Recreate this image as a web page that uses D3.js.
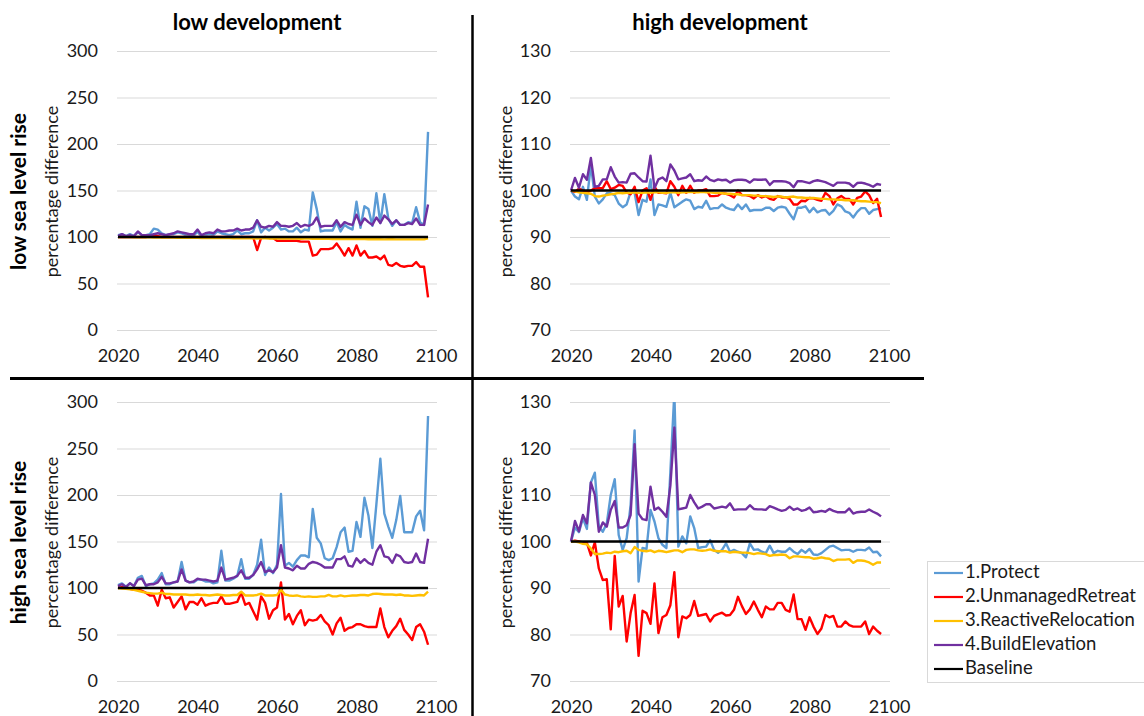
<!DOCTYPE html>
<html>
<head>
<meta charset="utf-8">
<script src="https://cdn.jsdelivr.net/npm/d3@7"></script>
<style>
  body { margin: 0; background: #fff; }
  svg { display: block; font-family: Lato, "Liberation Sans", sans-serif; }
</style>
</head>
<body>
<div id="chart"></div>
<script>
// years on the x axis, one point per year
var years = d3.range(2020, 2099);
var xTicks = [2020, 2040, 2060, 2080, 2100];
var yTicksLowDev = [0, 50, 100, 150, 200, 250, 300];
var yTicksHighDev = [70, 80, 90, 100, 110, 120, 130];
var colTitles = ["low development", "high development"];
var rowTitles = ["low sea level rise", "high sea level rise"];
var seriesNames = ["1.Protect", "2.UnmanagedRetreat", "3.ReactiveRelocation", "4.BuildElevation", "Baseline"];
var seriesColors = ["#5b9bd5", "#ff0000", "#ffc000", "#7030a0", "#000000"];
var baselineYears = [2020, 2098];
var baselineValues = [100, 100];

// low development, low sea level rise
var protectLDLS = [102,103,101,103,101,105,102,102,103,109, 108,104,102,103,103,105,104,102,101,101,
  106,100,102,103,102,106,104,103,102,103, 107,103,104,104,106,118,105,110,107,110,
  114,108,109,106,106,110,105,108,107,148, 130,106,107,107,107,116,106,113,110,108,
  138,110,133,130,112,147,115,146,120,112, 118,113,113,116,115,132,116,113,213];
var retreatLDLS = [100,100,100,100,100,100,100,100,101,102, 101,100,100,100,100,100,100,100,100,100,
  100,100,100,100,100,100,100,100,100,100, 100,100,100,100,100,86,99,100,99,99,
  96,96,96,96,96,96,95,95,95,80, 81,87,87,87,88,93,87,80,88,80,
  91,80,85,78,78,79,76,80,70,69, 72,69,68,69,69,73,68,68,35];
var relocLDLS = [100,100,99.9,100,99.8,99.8,99.6,99.7,99.6,99.5, 99.5,99.4,99.5,99.3,99.4,99.2,99.3,99.2,99.1,99.2,
  99.1,99,99,99.1,98.9,98.9,98.8,98.9,98.8,98.7, 98.8,98.7,98.6,98.7,98.6,98.4,98.6,98.5,98.4,98.5,
  98.4,98.3,98.4,98.3,98.2,98.3,98.1,98.2,98.2,98, 98.1,98,98,98.1,97.9,98,97.9,97.8,97.9,97.8,
  97.8,97.7,97.8,97.6,97.7,97.6,97.7,97.5,97.6,97.6, 97.5,97.5,97.4,97.5,97.4,97.4,97.5,97.4,98.5];
var elevLDLS = [101,103,101,102,101,106,102,102,102,103, 104,103,102,103,104,106,105,104,103,103,
  108,102,104,105,104,108,106,106,107,107, 109,107,108,108,110,118,111,110,112,111,
  116,112,112,111,112,115,111,113,112,114, 121,111,112,112,112,118,111,116,114,113,
  124,113,120,116,113,121,115,123,119,114, 118,113,113,115,114,120,113,113,135];

// high development, low sea level rise
var protectHDLS = [100,98.7,98.1,100.8,98,105.5,98.7,97.2,98.1,99.4, 99.4,99,97.2,96.4,97,99.7,99.5,94.7,98,97.6,
  102.4,94.7,97,96.8,96.5,99.5,96.4,97,97.6,98.1, 97.8,96,96.5,96.3,97.8,96,96.2,96.2,97,96.3,
  96,95.8,97,96,97,95.6,95.8,95.8,95.8,96.3, 96.3,95.6,96.3,96.5,96.3,95,93.8,96.3,96.3,96.6,
  95.3,96.3,95.3,95.7,95.8,94.8,95.6,97,96.6,95.5, 95.2,94.2,95.4,96.2,96.2,95,95.8,96,96.2];
var retreatHDLS = [100,99.7,100.4,100,99.6,100,100.5,100.5,100.5,102, 100.3,100.6,101.2,101,99.6,99.2,100.8,97.5,100,100.5,
  98,100.8,99.5,99.5,99.4,102,100.8,99,101,99.5, 101,99.5,100,100,100.3,98.8,98.8,98.9,99.5,99.3,
  99,98.5,100,99,99,98.8,98.3,99,98.5,98.8, 98.2,98,98.8,98.5,98.5,98.2,97,97,97.8,97.7,
  98.4,98.3,98,97.8,99.5,98.8,97,98.3,98.8,98.2, 98.2,97,98.4,98.7,99.8,99,97.3,98.2,94.3];
var relocHDLS = [100,99.8,99.6,99.5,99.4,99.3,98.8,98.7,98.9,99, 99.2,99.3,99.5,99.4,99.5,99.5,99.6,99.5,99.5,99.6,
  99.5,99.6,99.6,99.5,99.5,99.6,99.6,99.5,99.6,99.6, 99.7,99.6,99.6,99.7,99.6,99.6,99.5,99.5,99.4,99.3,
  99.3,99.2,99.2,99,99,99,98.9,98.9,98.8,98.8, 98.7,98.6,98.7,98.7,98.5,98.6,98.7,98.5,98.5,98.4,
  98.4,98.4,98.3,98.2,98.2,98.1,98.1,98,98,97.9, 97.9,97.9,97.8,97.7,97.7,97.6,97.5,97.5,97.3];
var elevHDLS = [100,102.7,100.6,103.5,102.3,107,100.8,101,102.4,102.4, 105,103,101.7,101.8,101.7,103.6,103.7,102.8,102,101.9,
  107.5,100.5,102.4,102.8,102,105.6,104.3,102.4,102.6,102.8, 103.5,102,102.2,102.1,103,102.3,102,102.4,102.2,102.3,
  101.7,102.2,102.3,102.3,102.2,101.7,102.4,102.3,102.3,102.4, 101.2,102,102,102,101.9,101.6,100.7,102,102,101.8,
  101.6,102,102.2,102,101.8,101.4,101,101.7,101.7,101.7, 101.5,100.8,101.6,101.7,101.5,101.2,100.8,101.4,101.2];

// low development, high sea level rise
var protectLDHS = [103,105,101.5,105,102,111,113,102,104,105, 109,116,104,104,106,107,128,108,106,106,
  109,109,107,107,105,106,140,108,108,110, 113,131,110,110,114,125,152,114,122,116,
  125,201,124,127,123,130,135,135,133,185, 154,148,132,130,132,144,160,165,139,140,
  171,155,197,178,143,190,239,180,166,154, 173,199,160,160,160,177,183,162,285];
var retreatLDHS = [100,101,100,99,98,98,97,95,92,92, 81,98,89,90,79,85,91,77,85,85,
  82,89,81,83,84,84,91,83,83,84, 85,95,82,84,75,66,91,84,67,76,
  79,106,66,72,61,70,76,60,66,65, 66,71,64,60,50,62,68,54,57,58,
  61,61,59,58,58,58,78,58,47,54, 59,67,55,50,44,58,61,53,39];
var relocLDHS = [100,99.5,99,98.5,98,97,96,95,94.5,94, 94,95,93.5,93.5,93,93,93,93,92.5,92.5,
  93,92.5,92.5,92,92.5,93,92.5,92,92,92.5, 92.5,96,92,92,92,92.5,94,92,92,92,
  92.5,98,93,92,91.5,92,91,90.5,91,90.5, 90.5,91,91,92.5,91,91,92,91,91.5,92,
  92,92.5,92.5,92,93.5,94,93.5,93,93,93, 92.5,93,92,92,91.5,92,92.5,92,96];
var elevLDHS = [102,104,101,105,102,109,110,103,104,104, 106,112,105,105,106,107,120,108,106,107,
  110,109,109,108,107,108,122,109,110,111, 113,119,111,111,114,120,128,117,119,117,
  122,146,122,121,119,124,121,121,126,128, 127,125,122,122,122,131,131,134,124,123,
  132,127,131,127,125,139,146,134,133,127, 136,134,128,127,128,137,128,127,153];

// high development, high sea level rise
var protectHDHS = [100,103,102,105,102.7,112.7,114.8,103.2,102.1,103.9, 110,113.4,101.4,98.2,100.7,107.8,123.9,91.4,98.6,98.4,
  106.8,104.3,100.7,99.3,98.6,115,132,98.9,101.1,99.6, 105.4,102.9,98.6,98.8,98.9,100.3,98.2,97.6,98.2,99.6,
  97.8,98.2,97.8,97.5,96.6,99.6,98.2,98.3,97.8,97.5, 99.1,97.5,98,97.8,97.8,98.6,97.8,97.3,98.2,97.6,
  98.4,97.2,97.1,97.5,98.2,98.9,99.1,98.6,98.1,98.2, 98.2,97.8,98.2,98.2,98.1,98.7,97.7,97.8,96.8];
var retreatHDHS = [100,100.2,100,99.8,99.7,97,99.8,94.2,91.7,91.9, 81.1,96.9,86,88.3,78.5,84.6,88.5,75.4,85.1,84.6,
  82.3,91,80.3,83.7,84.2,86.3,93.4,79.4,83.9,83.5, 84.2,87.2,84,84.2,84.4,82.8,84,84.4,84.7,84.1,
  84.2,85.3,88.1,86.1,84.4,85.4,87.1,85.3,83.7,86, 85.4,85.4,86.8,86.8,85.3,84.9,88.6,83.3,83.3,81,
  83.7,81.7,80.1,81.3,84.2,83.7,84,81.7,81.7,82.8, 82,81.7,81.7,81.7,82.8,80.1,81.7,80.8,80.1];
var relocHDHS = [100,100,99.8,99.5,99.4,98.5,97.3,97.3,97.4,97.6, 97.5,97.8,97.7,97.9,98,97.5,98.8,98.2,98,97.9,
  98.1,97.7,98,97.9,97.7,97.9,98.1,98.1,97.7,98.2, 98.3,98.3,98.1,98,98.1,98.3,98,97.9,97.9,97.9,
  97.6,97.8,97.7,97.6,97.6,97.5,97.3,97.5,97.4,97.3, 96.9,97.1,97.1,97.2,97.1,96.4,96.8,96.8,96.7,96.6,
  96.6,96.3,96.4,96.6,96.4,96.3,95.8,96.1,96.1,96.1, 96.2,95.4,95.9,95.9,95.8,95.5,95,95.5,95.5];
var elevHDHS = [100,104.4,102.2,105.7,103.9,112.7,110,102.1,104.1,103.2, 106.8,108.7,103,103,103.5,105.7,120.9,106,104.8,104.6,
  111.8,106.8,107.3,106.4,105.3,112,124.5,106.9,107.1,107.3, 110,108.4,107.1,107.5,108,108,107.1,107.3,107.5,107.3,
  108.2,106.8,106.9,106.9,106.9,107.8,107,106.9,106.9,106.8, 107.6,107.3,106.9,106.6,106.8,107.5,106.8,107.1,106.6,106.8,
  107.3,106.3,106.4,106.6,106.4,107,106.6,106.3,106.3,106.3, 107.1,106,106.3,106.4,106.4,106.9,106.4,106,105.4];

var W = 1144, H = 716;
var svg = d3.select("#chart").append("svg")
    .attr("width", W)
    .attr("height", H);

// panel boxes (plot area of each small chart)
var panels = [
    {id: "p00", left: 118, right: 436, top: 51, bottom: 330, yTicks: yTicksLowDev,
     data: [protectLDLS, retreatLDLS, relocLDLS, elevLDLS], labelX: 53, rowLabel: 0},
    {id: "p01", left: 571, right: 889, top: 51, bottom: 330, yTicks: yTicksHighDev,
     data: [protectHDLS, retreatHDLS, relocHDLS, elevHDLS], labelX: 507},
    {id: "p10", left: 118, right: 436, top: 402, bottom: 681, yTicks: yTicksLowDev,
     data: [protectLDHS, retreatLDHS, relocLDHS, elevLDHS], labelX: 53, rowLabel: 1},
    {id: "p11", left: 571, right: 889, top: 402, bottom: 681, yTicks: yTicksHighDev,
     data: [protectHDHS, retreatHDHS, relocHDHS, elevHDHS], labelX: 507}
];

var defs = svg.append("defs");

panels.forEach(function (p) {
    var x = d3.scaleLinear().domain([2020, 2100]).range([p.left, p.right]);
    var y = d3.scaleLinear().domain(d3.extent(p.yTicks)).range([p.bottom, p.top]);
    var g = svg.append("g").attr("id", p.id);

    // gridlines
    g.append("g")
        .attr("transform", "translate(" + (p.left - 1) + ",0)")
        .call(d3.axisLeft(y).tickValues(p.yTicks).tickSize(-(p.right - p.left + 2)).tickFormat(""))
        .call(function (a) {
            a.select(".domain").remove();
            a.selectAll("line").attr("stroke", "#d9d9d9").attr("stroke-width", 1);
        });

    // y tick labels
    g.append("g")
        .attr("transform", "translate(" + (p.left - 20) + ",0)")
        .call(d3.axisLeft(y).tickValues(p.yTicks).tickSize(0).tickPadding(0))
        .call(function (a) {
            a.select(".domain").remove();
            a.selectAll("text").attr("font-size", "18px").attr("fill", "#1a1a1a")
                .attr("font-family", "Lato, sans-serif");
        });

    // x tick labels
    g.append("g")
        .attr("transform", "translate(0," + (p.bottom + 19) + ")")
        .call(d3.axisBottom(x).tickValues(xTicks).tickSize(0).tickPadding(0).tickFormat(d3.format("d")))
        .call(function (a) {
            a.select(".domain").remove();
            a.selectAll("text").attr("font-size", "18px").attr("fill", "#1a1a1a")
                .attr("font-family", "Lato, sans-serif");
        });

    // axis title
    g.append("text")
        .attr("transform", "translate(" + p.labelX + "," + ((p.top + p.bottom) / 2 + 1) + ") rotate(-90)")
        .attr("text-anchor", "middle")
        .attr("dominant-baseline", "middle")
        .attr("font-size", "18px")
        .attr("fill", "#1a1a1a")
        .text("percentage difference");

    defs.append("clipPath").attr("id", "clip-" + p.id)
        .append("rect")
        .attr("x", p.left - 5).attr("y", p.top)
        .attr("width", p.right - p.left + 10).attr("height", p.bottom - p.top);

    var line = d3.line()
        .x(function (d, i) { return x(years[i]); })
        .y(function (d) { return y(d); });

    var lines = g.append("g").attr("clip-path", "url(#clip-" + p.id + ")");
    p.data.forEach(function (arr, si) {
        lines.append("path")
            .datum(arr)
            .attr("d", line)
            .attr("fill", "none")
            .attr("stroke", seriesColors[si])
            .attr("stroke-width", 2.4)
            .attr("stroke-linejoin", "round");
    });
    // baseline on top
    lines.append("path")
        .datum(baselineValues)
        .attr("d", d3.line()
            .x(function (d, i) { return x(baselineYears[i]); })
            .y(function (d) { return y(d); }))
        .attr("stroke", seriesColors[4])
        .attr("stroke-width", 2.4);

    if (p.rowLabel !== undefined) {
        svg.append("text")
            .attr("transform", "translate(21," + ((p.top + p.bottom) / 2 + 1) + ") rotate(-90)")
            .attr("text-anchor", "middle")
            .attr("dominant-baseline", "middle")
            .attr("font-size", "21px")
            .attr("font-weight", "bold")
            .attr("fill", "#000")
            .text(rowTitles[p.rowLabel]);
    }
});

// column titles
svg.selectAll(".colTitle")
    .data(colTitles)
    .enter().append("text")
    .attr("class", "colTitle")
    .attr("x", function (d, i) { return i === 0 ? 257 : 720; })
    .attr("y", 30)
    .attr("text-anchor", "middle")
    .attr("font-size", "22px")
    .attr("font-weight", "bold")
    .attr("fill", "#000")
    .text(function (d) { return d; });

// quadrant dividers
svg.append("line")
    .attr("x1", 10).attr("x2", 924).attr("y1", 378.5).attr("y2", 378.5)
    .attr("stroke", "#000").attr("stroke-width", 3);
svg.append("line")
    .attr("x1", 472.5).attr("x2", 472.5).attr("y1", 15).attr("y2", H)
    .attr("stroke", "#000").attr("stroke-width", 2.5);

// legend
var legend = svg.append("g").attr("id", "legend");
legend.append("rect")
    .attr("x", 927.5).attr("y", 561.5)
    .attr("width", 230).attr("height", 121)
    .attr("fill", "#fff")
    .attr("stroke", "#d9d9d9").attr("stroke-width", 1);
var items = legend.selectAll(".item")
    .data(seriesNames)
    .enter().append("g")
    .attr("class", "item")
    .attr("transform", function (d, i) { return "translate(0," + (573 + i * 24) + ")"; });
items.append("line")
    .attr("x1", 934).attr("x2", 963)
    .attr("stroke", function (d, i) { return seriesColors[i]; })
    .attr("stroke-width", 2.2);
items.append("text")
    .attr("x", 965)
    .attr("dominant-baseline", "middle")
    .attr("font-size", "18.5px")
    .attr("fill", "#1a1a1a")
    .text(function (d) { return d; });
</script>
</body>
</html>
